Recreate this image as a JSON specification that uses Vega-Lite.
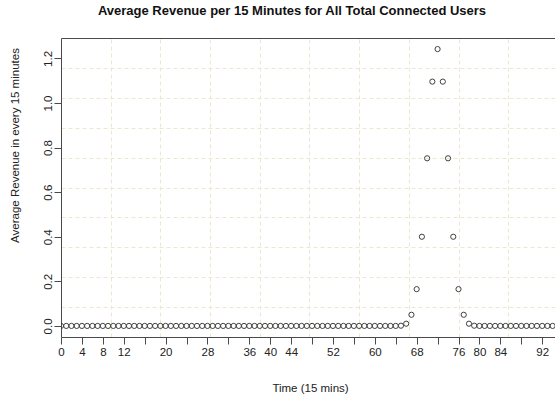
{
  "$schema": "https://vega.github.io/schema/vega-lite/v6.json",
  "width": 494,
  "height": 299,
  "autosize": {"type": "none"},
  "padding": {"left": 61, "top": 38, "right": 0, "bottom": 64},
  "background": "white",
  "config": {
    "view": {"stroke": null},
    "font": "Liberation Sans",
    "axis": {
      "domainColor": "#4a4a4a",
      "domainWidth": 1,
      "tickColor": "#4a4a4a",
      "tickWidth": 1,
      "tickSize": 7,
      "labelFont": "Liberation Sans",
      "labelFontSize": 11.5,
      "labelColor": "#222222",
      "titleFont": "Liberation Sans",
      "titleFontSize": 11.5,
      "titleFontWeight": "normal",
      "titleColor": "#222222",
      "gridColor": "#ece7d0",
      "gridDash": [4, 3],
      "gridWidth": 1
    }
  },
  "title": {
    "text": "Average Revenue per 15 Minutes for All Total Connected Users",
    "font": "Liberation Sans",
    "fontSize": 13,
    "fontWeight": "bold",
    "color": "#111111",
    "anchor": "middle",
    "frame": "group",
    "dx": -16,
    "offset": 20
  },
  "data": {
    "values": [
      {"slot": 0, "revenue": 0}, {"slot": 1, "revenue": 0}, {"slot": 2, "revenue": 0}, {"slot": 3, "revenue": 0},
      {"slot": 4, "revenue": 0}, {"slot": 5, "revenue": 0}, {"slot": 6, "revenue": 0}, {"slot": 7, "revenue": 0},
      {"slot": 8, "revenue": 0}, {"slot": 9, "revenue": 0}, {"slot": 10, "revenue": 0}, {"slot": 11, "revenue": 0},
      {"slot": 12, "revenue": 0}, {"slot": 13, "revenue": 0}, {"slot": 14, "revenue": 0}, {"slot": 15, "revenue": 0},
      {"slot": 16, "revenue": 0}, {"slot": 17, "revenue": 0}, {"slot": 18, "revenue": 0}, {"slot": 19, "revenue": 0},
      {"slot": 20, "revenue": 0}, {"slot": 21, "revenue": 0}, {"slot": 22, "revenue": 0}, {"slot": 23, "revenue": 0},
      {"slot": 24, "revenue": 0}, {"slot": 25, "revenue": 0}, {"slot": 26, "revenue": 0}, {"slot": 27, "revenue": 0},
      {"slot": 28, "revenue": 0}, {"slot": 29, "revenue": 0}, {"slot": 30, "revenue": 0}, {"slot": 31, "revenue": 0},
      {"slot": 32, "revenue": 0}, {"slot": 33, "revenue": 0}, {"slot": 34, "revenue": 0}, {"slot": 35, "revenue": 0},
      {"slot": 36, "revenue": 0}, {"slot": 37, "revenue": 0}, {"slot": 38, "revenue": 0}, {"slot": 39, "revenue": 0},
      {"slot": 40, "revenue": 0}, {"slot": 41, "revenue": 0}, {"slot": 42, "revenue": 0}, {"slot": 43, "revenue": 0},
      {"slot": 44, "revenue": 0}, {"slot": 45, "revenue": 0}, {"slot": 46, "revenue": 0}, {"slot": 47, "revenue": 0},
      {"slot": 48, "revenue": 0}, {"slot": 49, "revenue": 0}, {"slot": 50, "revenue": 0}, {"slot": 51, "revenue": 0},
      {"slot": 52, "revenue": 0}, {"slot": 53, "revenue": 0}, {"slot": 54, "revenue": 0}, {"slot": 55, "revenue": 0},
      {"slot": 56, "revenue": 0}, {"slot": 57, "revenue": 0}, {"slot": 58, "revenue": 0}, {"slot": 59, "revenue": 0},
      {"slot": 60, "revenue": 0}, {"slot": 61, "revenue": 0}, {"slot": 62, "revenue": 0}, {"slot": 63, "revenue": 0},
      {"slot": 64, "revenue": 0}, {"slot": 65, "revenue": 0.001}, {"slot": 66, "revenue": 0.01}, {"slot": 67, "revenue": 0.05},
      {"slot": 68, "revenue": 0.165}, {"slot": 69, "revenue": 0.4}, {"slot": 70, "revenue": 0.752}, {"slot": 71, "revenue": 1.096},
      {"slot": 72, "revenue": 1.242}, {"slot": 73, "revenue": 1.096}, {"slot": 74, "revenue": 0.752}, {"slot": 75, "revenue": 0.4},
      {"slot": 76, "revenue": 0.165}, {"slot": 77, "revenue": 0.05}, {"slot": 78, "revenue": 0.01}, {"slot": 79, "revenue": 0.001},
      {"slot": 80, "revenue": 0}, {"slot": 81, "revenue": 0}, {"slot": 82, "revenue": 0}, {"slot": 83, "revenue": 0},
      {"slot": 84, "revenue": 0}, {"slot": 85, "revenue": 0}, {"slot": 86, "revenue": 0}, {"slot": 87, "revenue": 0},
      {"slot": 88, "revenue": 0}, {"slot": 89, "revenue": 0}, {"slot": 90, "revenue": 0}, {"slot": 91, "revenue": 0},
      {"slot": 92, "revenue": 0}, {"slot": 93, "revenue": 0}, {"slot": 94, "revenue": 0}, {"slot": 95, "revenue": 0}
    ]
  },
  "layer": [
    {
      "mark": {"type": "point", "opacity": 0},
      "encoding": {
        "x": {
          "field": "slot",
          "type": "quantitative",
          "scale": {"domain": [0, 94.45], "nice": false, "zero": false},
          "axis": {
            "orient": "top",
            "values": [9.5, 19, 28.5, 38, 47.5, 57, 66.5, 76, 85.5],
            "grid": true,
            "ticks": false,
            "labels": false,
            "domain": true,
            "title": null
          }
        },
        "y": {
          "field": "revenue",
          "type": "quantitative",
          "scale": {"domain": [-0.0497, 1.2917], "nice": false, "zero": false},
          "axis": {
            "orient": "right",
            "values": [0.0845, 0.2186, 0.3528, 0.4869, 0.621, 0.7552, 0.8893, 1.0235, 1.1576],
            "grid": true,
            "ticks": false,
            "labels": false,
            "domain": false,
            "title": null
          }
        }
      }
    },
    {
      "mark": {
        "type": "point",
        "shape": "circle",
        "filled": false,
        "size": 27,
        "strokeWidth": 1,
        "color": "#404040",
        "opacity": 1,
        "clip": true
      },
      "encoding": {
        "x": {
          "field": "slot",
          "type": "quantitative",
          "axis": {
            "orient": "bottom",
            "values": [0, 4, 8, 12, 16, 20, 24, 28, 32, 36, 40, 44, 48, 52, 56, 60, 64, 68, 72, 76, 80, 84, 88, 92],
            "labelExpr": "indexof([16, 24, 32, 48, 56, 64, 72, 88], datum.value) >= 0 ? '' : datum.label",
            "labelPadding": 2,
            "labelFlush": false,
            "labelOverlap": false,
            "grid": false,
            "title": "Time (15 mins)",
            "titleX": 249,
            "titleY": 51,
            "titleBaseline": "middle",
            "titleAlign": "center"
          }
        },
        "y": {
          "field": "revenue",
          "type": "quantitative",
          "axis": {
            "orient": "left",
            "values": [0, 0.2, 0.4, 0.6, 0.8, 1.0, 1.2],
            "format": ".1f",
            "labelAngle": -90,
            "labelAlign": "center",
            "labelBaseline": "bottom",
            "labelPadding": 1,
            "labelFlush": false,
            "labelOverlap": false,
            "grid": false,
            "title": "Average Revenue in every 15 minutes",
            "titleX": -46,
            "titleY": 107,
            "titleAngle": -90,
            "titleBaseline": "middle",
            "titleAlign": "center"
          }
        }
      }
    }
  ],
  "resolve": {"axis": {"x": "independent", "y": "independent"}}
}
